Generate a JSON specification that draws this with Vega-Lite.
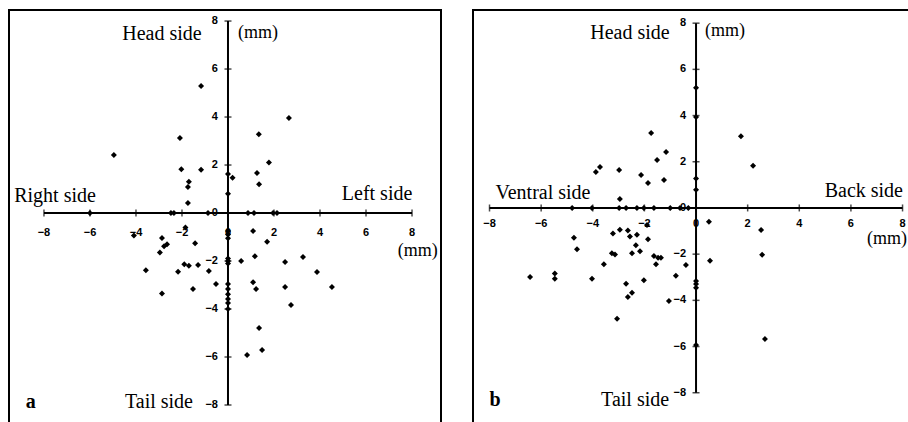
{
  "$schema": "https://vega.github.io/schema/vega-lite/v6.json",
  "padding": {"left": 8, "top": 9, "right": 0, "bottom": 0},
  "background": "white",
  "spacing": 30,
  "config": {
    "axis": {"disable": true},
    "view": {"stroke": "black", "strokeWidth": 2},
    "text": {"font": "Liberation Serif", "color": "black"}
  },
  "datasets": {
    "ticks": [{"v": -8}, {"v": -6}, {"v": -4}, {"v": -2}, {"v": 0}, {"v": 2}, {"v": 4}, {"v": 6}, {"v": 8}],
    "a": [
      {"x": -1.17, "y": 5.29}, {"x": -4.96, "y": 2.42}, {"x": -2.09, "y": 3.13}, {"x": -2.03, "y": 1.82},
      {"x": -1.17, "y": 1.8}, {"x": -1.7, "y": 1.3}, {"x": -1.74, "y": 1.08}, {"x": -1.74, "y": 0.42},
      {"x": -6, "y": 0}, {"x": -2.48, "y": 0}, {"x": -2.35, "y": 0}, {"x": -0.87, "y": 0},
      {"x": 0.87, "y": 0}, {"x": 1.13, "y": 0}, {"x": 1.96, "y": 0}, {"x": 2.13, "y": 0},
      {"x": 0, "y": 1.63}, {"x": 0.2, "y": 1.47}, {"x": 0, "y": 0.8},
      {"x": 1.34, "y": 3.28}, {"x": 2.65, "y": 3.96}, {"x": 1.78, "y": 2.11}, {"x": 1.26, "y": 1.67}, {"x": 1.35, "y": 1.2},
      {"x": -4.09, "y": -0.94}, {"x": -2.87, "y": -1.04}, {"x": -2.65, "y": -1.3}, {"x": -2.78, "y": -1.38},
      {"x": -2.96, "y": -1.65}, {"x": -1.85, "y": -0.6}, {"x": -1.43, "y": -1.26}, {"x": -3.57, "y": -2.38},
      {"x": -2.17, "y": -2.45}, {"x": -1.9, "y": -2.13}, {"x": -1.7, "y": -2.2}, {"x": -1.3, "y": -2.17},
      {"x": -0.83, "y": -2.42}, {"x": -0.52, "y": -2.96}, {"x": -2.87, "y": -3.35}, {"x": -1.52, "y": -3.17},
      {"x": 0, "y": -0.75}, {"x": 0, "y": -0.9}, {"x": 0, "y": -1.05}, {"x": 0, "y": -1.9}, {"x": 0, "y": -2.0},
      {"x": 0, "y": -2.1}, {"x": 0, "y": -2.96}, {"x": 0, "y": -3.17}, {"x": 0, "y": -3.38}, {"x": 0, "y": -3.58},
      {"x": 0, "y": -3.75}, {"x": 0, "y": -4.0},
      {"x": 1.09, "y": -0.75}, {"x": 1.7, "y": -1.2}, {"x": 0.57, "y": -2.0}, {"x": 1.17, "y": -1.8},
      {"x": 2.48, "y": -2.04}, {"x": 3.26, "y": -1.83}, {"x": 3.87, "y": -2.46}, {"x": 1.09, "y": -2.88},
      {"x": 1.22, "y": -3.17}, {"x": 2.48, "y": -3.08}, {"x": 4.52, "y": -3.08}, {"x": 2.74, "y": -3.83},
      {"x": 1.35, "y": -4.79}, {"x": 1.48, "y": -5.71}, {"x": 0.83, "y": -5.92}
    ],
    "b": [
      {"x": -1.74, "y": 3.25}, {"x": -1.16, "y": 2.42}, {"x": -1.51, "y": 2.08}, {"x": -3.88, "y": 1.56},
      {"x": -3.72, "y": 1.77}, {"x": -2.98, "y": 1.64}, {"x": -2.13, "y": 1.43}, {"x": -1.86, "y": 1.08},
      {"x": -1.24, "y": 1.21}, {"x": -2.95, "y": 0.39}, {"x": 1.74, "y": 3.1}, {"x": 2.21, "y": 1.83},
      {"x": 0, "y": 5.2}, {"x": 0, "y": 3.94}, {"x": 0, "y": 1.27}, {"x": 0, "y": 0.79},
      {"x": -4.8, "y": 0}, {"x": -4.03, "y": 0}, {"x": -2.98, "y": 0}, {"x": -2.71, "y": 0}, {"x": -2.29, "y": 0},
      {"x": -2.02, "y": 0}, {"x": -1.63, "y": 0}, {"x": -1.0, "y": 0}, {"x": -0.62, "y": 0}, {"x": -0.3, "y": 0},
      {"x": -6.43, "y": -2.99}, {"x": -5.47, "y": -2.84}, {"x": -5.47, "y": -3.07}, {"x": -4.73, "y": -1.29},
      {"x": -4.61, "y": -1.79}, {"x": -4.03, "y": -3.07}, {"x": -3.57, "y": -2.44}, {"x": -3.26, "y": -1.96},
      {"x": -3.14, "y": -2.02}, {"x": -3.22, "y": -1.11}, {"x": -2.95, "y": -0.94}, {"x": -2.64, "y": -0.98},
      {"x": -2.56, "y": -1.24}, {"x": -2.29, "y": -1.16}, {"x": -2.33, "y": -1.62}, {"x": -2.48, "y": -1.96},
      {"x": -2.17, "y": -1.87}, {"x": -1.86, "y": -1.35}, {"x": -1.63, "y": -2.08}, {"x": -1.47, "y": -2.16},
      {"x": -1.36, "y": -2.16}, {"x": -1.55, "y": -2.44}, {"x": -2.71, "y": -3.28}, {"x": -2.64, "y": -3.85},
      {"x": -2.48, "y": -3.67}, {"x": -2.02, "y": -3.13}, {"x": -3.06, "y": -4.8}, {"x": -1.05, "y": -4.03},
      {"x": -0.78, "y": -2.94}, {"x": -1.9, "y": -0.74}, {"x": -0.39, "y": -2.47}, {"x": 0.5, "y": -0.6},
      {"x": 0.54, "y": -2.29}, {"x": 2.52, "y": -0.95}, {"x": 2.56, "y": -2.03}, {"x": 2.67, "y": -5.67},
      {"x": 0, "y": -3.16}, {"x": 0, "y": -3.29}, {"x": 0, "y": -3.46}, {"x": 0, "y": -5.93}
    ]
  },
  "hconcat": [
    {
      "width": 432,
      "height": 413,
      "layer": [
        {
          "data": {"values": [{}]},
          "mark": {"type": "rule", "strokeWidth": 2, "color": "black"},
          "encoding": {
            "x": {"datum": -8, "type": "quantitative", "scale": {"domain": [-9.52, 9.26], "nice": false, "zero": false}},
            "x2": {"datum": 8},
            "y": {"datum": 0, "type": "quantitative", "scale": {"domain": [-8.75, 8.46], "nice": false, "zero": false}}
          }
        },
        {
          "data": {"values": [{}]},
          "mark": {"type": "rule", "strokeWidth": 2, "color": "black"},
          "encoding": {"x": {"datum": 0, "type": "quantitative"}, "y": {"datum": -8, "type": "quantitative"}, "y2": {"datum": 8}}
        },
        {
          "data": {"name": "ticks"},
          "mark": {"type": "tick", "orient": "vertical", "size": 7, "thickness": 1.5, "color": "black"},
          "encoding": {"x": {"field": "v", "type": "quantitative"}, "y": {"datum": 0, "type": "quantitative"}}
        },
        {
          "data": {"name": "ticks"},
          "mark": {"type": "tick", "orient": "horizontal", "size": 7, "thickness": 1.5, "color": "black"},
          "encoding": {"y": {"field": "v", "type": "quantitative"}, "x": {"datum": 0, "type": "quantitative"}}
        },
        {
          "data": {"name": "ticks"},
          "mark": {"type": "text", "font": "Liberation Sans", "fontWeight": "bold", "fontSize": 11, "dy": 20},
          "encoding": {"x": {"field": "v", "type": "quantitative"}, "y": {"datum": 0, "type": "quantitative"}, "text": {"field": "v", "type": "quantitative"}}
        },
        {
          "data": {"name": "ticks"},
          "mark": {"type": "text", "font": "Liberation Sans", "fontWeight": "bold", "fontSize": 11, "align": "right", "dx": -10},
          "encoding": {"y": {"field": "v", "type": "quantitative"}, "x": {"datum": 0, "type": "quantitative"}, "text": {"field": "v", "type": "quantitative"}}
        },
        {
          "data": {"name": "a"},
          "mark": {"type": "point", "shape": "diamond", "filled": true, "size": 36, "color": "black", "opacity": 1},
          "encoding": {"x": {"field": "x", "type": "quantitative"}, "y": {"field": "y", "type": "quantitative"}}
        },
        {
          "data": {"values": [{}]},
          "mark": {"type": "text", "fontSize": 20},
          "encoding": {"x": {"datum": -2.87, "type": "quantitative"}, "y": {"datum": 7.46, "type": "quantitative"}, "text": {"value": "Head side"}}
        },
        {
          "data": {"values": [{}]},
          "mark": {"type": "text", "fontSize": 18},
          "encoding": {"x": {"datum": 1.3, "type": "quantitative"}, "y": {"datum": 7.5, "type": "quantitative"}, "text": {"value": "(mm)"}}
        },
        {
          "data": {"values": [{}]},
          "mark": {"type": "text", "fontSize": 20},
          "encoding": {"x": {"datum": -7.52, "type": "quantitative"}, "y": {"datum": 0.71, "type": "quantitative"}, "text": {"value": "Right side"}}
        },
        {
          "data": {"values": [{}]},
          "mark": {"type": "text", "fontSize": 20},
          "encoding": {"x": {"datum": 6.48, "type": "quantitative"}, "y": {"datum": 0.79, "type": "quantitative"}, "text": {"value": "Left side"}}
        },
        {
          "data": {"values": [{}]},
          "mark": {"type": "text", "fontSize": 18},
          "encoding": {"x": {"datum": 8.25, "type": "quantitative"}, "y": {"datum": -1.58, "type": "quantitative"}, "text": {"value": "(mm)"}}
        },
        {
          "data": {"values": [{}]},
          "mark": {"type": "text", "fontSize": 20},
          "encoding": {"x": {"datum": -3.0, "type": "quantitative"}, "y": {"datum": -7.88, "type": "quantitative"}, "text": {"value": "Tail side"}}
        },
        {
          "data": {"values": [{}]},
          "mark": {"type": "text", "fontSize": 20, "fontWeight": "bold"},
          "encoding": {"x": {"datum": -8.57, "type": "quantitative"}, "y": {"datum": -7.88, "type": "quantitative"}, "text": {"value": "a"}}
        }
      ]
    },
    {
      "width": 436,
      "height": 413,
      "layer": [
        {
          "data": {"values": [{}]},
          "mark": {"type": "rule", "strokeWidth": 2, "color": "black"},
          "encoding": {
            "x": {"datum": -8, "type": "quantitative", "scale": {"domain": [-8.64, 8.25], "nice": false, "zero": false}},
            "x2": {"datum": 8},
            "y": {"datum": 0, "type": "quantitative", "scale": {"domain": [-9.31, 8.57], "nice": false, "zero": false}}
          }
        },
        {
          "data": {"values": [{}]},
          "mark": {"type": "rule", "strokeWidth": 2, "color": "black"},
          "encoding": {"x": {"datum": 0, "type": "quantitative"}, "y": {"datum": -8, "type": "quantitative"}, "y2": {"datum": 8}}
        },
        {
          "data": {"name": "ticks"},
          "mark": {"type": "tick", "orient": "vertical", "size": 7, "thickness": 1.5, "color": "black"},
          "encoding": {"x": {"field": "v", "type": "quantitative"}, "y": {"datum": 0, "type": "quantitative"}}
        },
        {
          "data": {"name": "ticks"},
          "mark": {"type": "tick", "orient": "horizontal", "size": 7, "thickness": 1.5, "color": "black"},
          "encoding": {"y": {"field": "v", "type": "quantitative"}, "x": {"datum": 0, "type": "quantitative"}}
        },
        {
          "data": {"name": "ticks"},
          "mark": {"type": "text", "font": "Liberation Sans", "fontWeight": "bold", "fontSize": 11, "dy": 16},
          "encoding": {"x": {"field": "v", "type": "quantitative"}, "y": {"datum": 0, "type": "quantitative"}, "text": {"field": "v", "type": "quantitative"}}
        },
        {
          "data": {"name": "ticks"},
          "mark": {"type": "text", "font": "Liberation Sans", "fontWeight": "bold", "fontSize": 11, "align": "right", "dx": -10},
          "encoding": {"y": {"field": "v", "type": "quantitative"}, "x": {"datum": 0, "type": "quantitative"}, "text": {"field": "v", "type": "quantitative"}}
        },
        {
          "data": {"name": "b"},
          "mark": {"type": "point", "shape": "diamond", "filled": true, "size": 36, "color": "black", "opacity": 1},
          "encoding": {"x": {"field": "x", "type": "quantitative"}, "y": {"field": "y", "type": "quantitative"}}
        },
        {
          "data": {"values": [{}]},
          "mark": {"type": "text", "fontSize": 20},
          "encoding": {"x": {"datum": -2.56, "type": "quantitative"}, "y": {"datum": 7.58, "type": "quantitative"}, "text": {"value": "Head side"}}
        },
        {
          "data": {"values": [{}]},
          "mark": {"type": "text", "fontSize": 18},
          "encoding": {"x": {"datum": 1.12, "type": "quantitative"}, "y": {"datum": 7.66, "type": "quantitative"}, "text": {"value": "(mm)"}}
        },
        {
          "data": {"values": [{}]},
          "mark": {"type": "text", "fontSize": 20},
          "encoding": {"x": {"datum": -5.93, "type": "quantitative"}, "y": {"datum": 0.65, "type": "quantitative"}, "text": {"value": "Ventral side"}}
        },
        {
          "data": {"values": [{}]},
          "mark": {"type": "text", "fontSize": 20},
          "encoding": {"x": {"datum": 6.5, "type": "quantitative"}, "y": {"datum": 0.74, "type": "quantitative"}, "text": {"value": "Back side"}}
        },
        {
          "data": {"values": [{}]},
          "mark": {"type": "text", "fontSize": 18},
          "encoding": {"x": {"datum": 7.4, "type": "quantitative"}, "y": {"datum": -1.34, "type": "quantitative"}, "text": {"value": "(mm)"}}
        },
        {
          "data": {"values": [{}]},
          "mark": {"type": "text", "fontSize": 20},
          "encoding": {"x": {"datum": -2.36, "type": "quantitative"}, "y": {"datum": -8.31, "type": "quantitative"}, "text": {"value": "Tail side"}}
        },
        {
          "data": {"values": [{}]},
          "mark": {"type": "text", "fontSize": 20, "fontWeight": "bold"},
          "encoding": {"x": {"datum": -7.79, "type": "quantitative"}, "y": {"datum": -8.31, "type": "quantitative"}, "text": {"value": "b"}}
        }
      ]
    }
  ]
}
